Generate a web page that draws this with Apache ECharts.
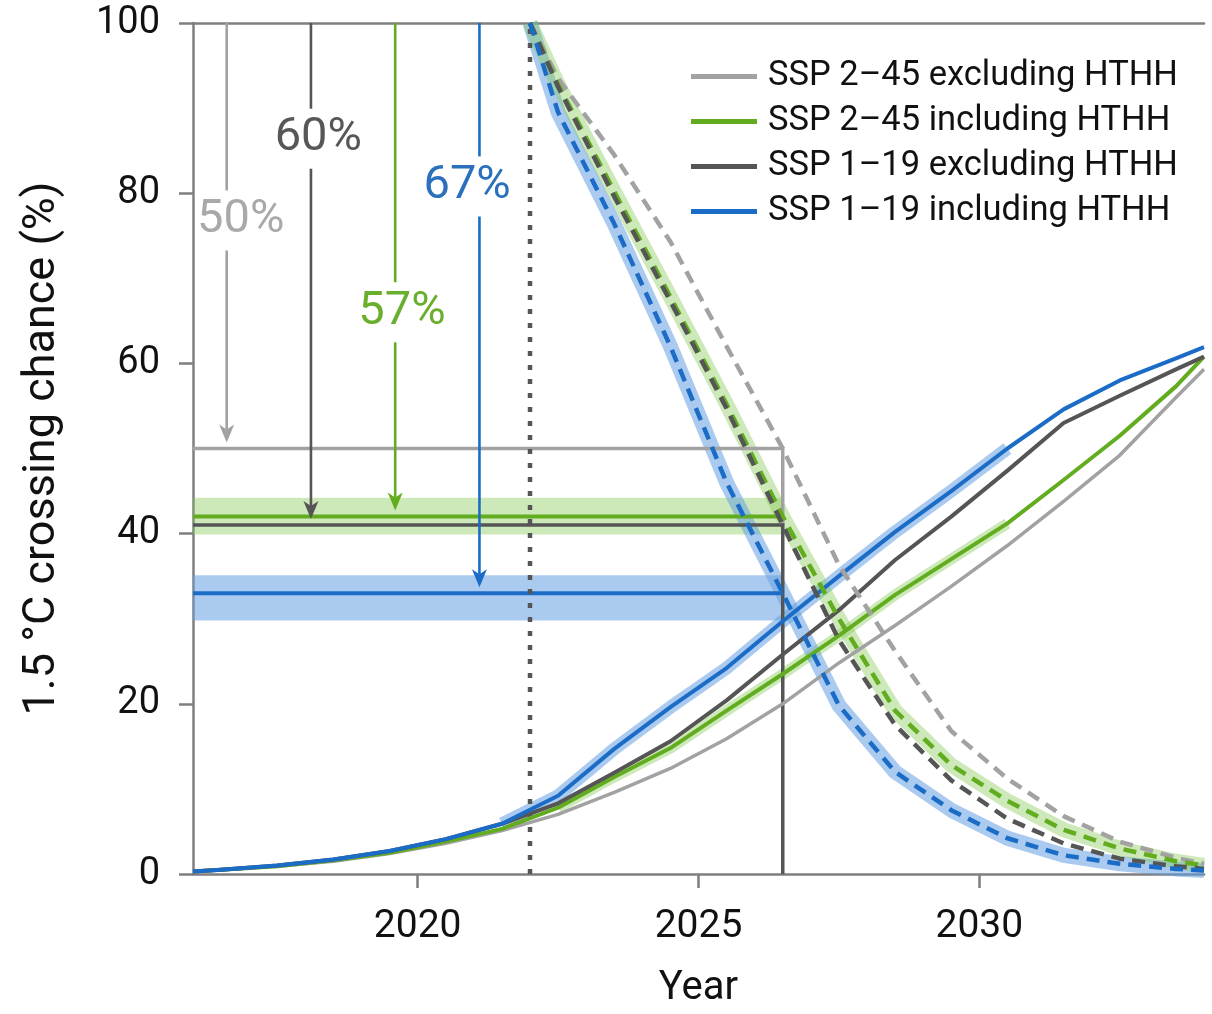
<!DOCTYPE html>
<html>
<head>
<meta charset="utf-8">
<script src="https://cdn.jsdelivr.net/npm/echarts@6/dist/echarts.min.js"></script>
<style>
  html, body { margin: 0; padding: 0; background: #fff; }
  #chart { width: 1212px; height: 1014px; }
</style>
</head>
<body>
<div id="chart"></div>
<script>
// ---- data -------------------------------------------------------------
const scenarioNames = [
  'SSP 2–45 excluding HTHH',
  'SSP 2–45 including HTHH',
  'SSP 1–19 excluding HTHH',
  'SSP 1–19 including HTHH'
];

// Chance of having crossed 1.5 °C (solid, rising curves)
const riseYears = [2016, 2016.5, 2017.5, 2018.5, 2019.5, 2020.5, 2021.5, 2022.5, 2023.5, 2024.5,
                   2025.5, 2026.5, 2027.5, 2028.5, 2029.5, 2030.5, 2031.5, 2032.5, 2033.5, 2034];
const ssp245ExclRise = [0.3, 0.5, 0.9, 1.5, 2.4, 3.6, 5.1, 7.0, 9.6, 12.4, 15.9, 20.0, 24.8, 29.2, 33.8, 38.6, 43.8, 49.2, 56.0, 59.3];
const ssp245InclRise = [0.3, 0.5, 0.9, 1.6, 2.5, 3.8, 5.3, 7.8, 11.4, 14.8, 19.2, 23.5, 28.0, 32.8, 37.0, 41.2, 46.3, 51.5, 57.3, 60.8];
const ssp119ExclRise = [0.3, 0.5, 1.0, 1.7, 2.7, 4.1, 5.9, 8.3, 11.9, 15.6, 20.4, 25.8, 31.0, 36.9, 42.0, 47.4, 53.0, 56.2, 59.3, 60.8];
const ssp119InclRise = [0.3, 0.5, 1.0, 1.7, 2.7, 4.1, 5.9, 9.2, 14.7, 19.6, 24.2, 29.7, 35.0, 40.2, 45.0, 50.0, 54.6, 58.0, 60.6, 61.9];

// Chance of not yet having crossed, from 2022 on (dashed, falling curves)
const fallYears = [2022, 2022.5, 2023.5, 2024.5, 2025.5, 2026.5, 2027.5, 2028.5, 2029.5, 2030.5, 2031.5, 2032.5, 2033.5, 2034];
const ssp245ExclFall = [100, 93.5, 84.5, 74.3, 62.0, 50.0, 36.3, 26.2, 16.8, 11.2, 6.8, 3.8, 1.9, 1.2];
const ssp245InclFall = [100, 92.8, 80.2, 67.8, 55.2, 42.0, 30.0, 19.2, 12.8, 8.6, 5.2, 3.0, 1.5, 1.0];
const ssp119ExclFall = [100, 92.5, 79.6, 67.3, 54.7, 41.0, 27.5, 17.5, 11.0, 6.5, 3.6, 1.8, 0.9, 0.6];
const ssp119InclFall = [100, 89.5, 76.4, 62.0, 46.0, 33.0, 19.8, 12.0, 7.5, 4.2, 2.2, 1.2, 0.6, 0.4];

// Reference years: present (dotted) and the year the levels are read at
const presentYear = 2022;
const readYear = 2026.5;

// Ranges of the horizontal uncertainty bands
const ssp245InclRange = [39.9, 44.2];
const ssp119InclRange = [29.8, 35.1];

// Annotated chances and the years of their arrows
const chanceLabels = ['50%', '57%', '60%', '67%'];
const arrowYears = [2016.6, 2019.6, 2018.1, 2021.1];

// x-axis tick years
const yearTicks = [2020, 2025, 2030];

// ---- styling ----------------------------------------------------------
const FONT = 'Roboto, "Noto Sans", sans-serif';
const colors = ['#a2a2a2', '#62ad1f', '#555555', '#1b6cc6'];
const labelColors = ['#a9a9a9', '#6aae2e', '#575757', '#2a70bd'];
const bandBlue = 'rgba(100,160,225,0.55)';
const bandGreen = 'rgba(130,200,80,0.40)';
const axisGray = '#7f7f7f';
// label centres (year, value) for the chance annotations
const labelAnchors = [[2016.85, 76.8], [2019.72, 66.0], [2018.23, 86.4], [2020.88, 80.8]];

const riseSets = [ssp245ExclRise, ssp245InclRise, ssp119ExclRise, ssp119InclRise];
const fallSets = [ssp245ExclFall, ssp245InclFall, ssp119ExclFall, ssp119InclFall];
const pairs = (xs, ys) => xs.map((x, i) => [x, ys[i]]);
const readIdx = fallYears.indexOf(readYear);
const levels = fallSets.map(s => s[readIdx]);

const series = [];

// horizontal uncertainty bands
[[ssp245InclRange, bandGreen], [ssp119InclRange, bandBlue]].forEach(([rng, col]) => {
  series.push({
    type: 'custom', silent: true, z: 1,
    encode: { x: [0, 1], y: [2, 3] },
    data: [[riseYears[0], readYear, rng[0], rng[1]]],
    renderItem: (params, api) => {
      const a = api.coord([api.value(0), api.value(3)]);
      const b = api.coord([api.value(1), api.value(2)]);
      return { type: 'rect', shape: { x: a[0], y: a[1], width: b[0] - a[0], height: b[1] - a[1] },
               style: { fill: col } };
    }
  });
});

// translucent spread around the "including HTHH" curves
const bandLine = (data, col, w) => ({
  type: 'line', silent: true, z: 1, symbol: 'none', data,
  lineStyle: { color: col, width: w, cap: 'butt', join: 'round' }
});
series.push(bandLine(pairs(riseYears, ssp119InclRise).slice(6, 16), bandBlue, 13));
series.push(bandLine(pairs(riseYears, ssp245InclRise).slice(7, 16), bandGreen, 11));
series.push(bandLine(pairs(fallYears, ssp119InclFall), bandBlue, 15));
series.push(bandLine(pairs(fallYears, ssp245InclFall), bandGreen, 15));

// level lines read at the crossing year
const levelLine = (data, col, w) => ({
  type: 'line', silent: true, z: 2, symbol: 'none', data,
  lineStyle: { color: col, width: w, cap: 'butt', join: 'miter' }
});
const x0 = riseYears[0];
series.push(levelLine([[x0, levels[0]], [readYear, levels[0]], [readYear, levels[2]]], colors[0], 3.5));
series.push(levelLine([[x0, levels[1]], [readYear, levels[1]]], colors[1], 4));
series.push(levelLine([[x0, levels[2]], [readYear, levels[2]], [readYear, 0]], colors[2], 3.5));
series.push(levelLine([[x0, levels[3]], [readYear, levels[3]]], colors[3], 4));

// dotted present-day marker
series.push({
  type: 'line', silent: true, z: 2, symbol: 'none',
  data: [[presentYear, 0], [presentYear, 100]],
  lineStyle: { color: '#555', width: 4.5, type: [5, 9], cap: 'butt' }
});

// solid rising curves
riseSets.forEach((s, i) => {
  series.push({
    name: scenarioNames[i], type: 'line', z: 3, symbol: 'none', silent: true,
    data: pairs(riseYears, s),
    lineStyle: { color: colors[i], width: i === 0 ? 3.5 : 4, join: 'round' },
    itemStyle: { color: colors[i] }
  });
});

// dashed falling curves
fallSets.forEach((s, i) => {
  series.push({
    name: scenarioNames[i], type: 'line', z: 4, symbol: 'none', silent: true,
    data: pairs(fallYears, s),
    lineStyle: { color: colors[i], width: 4.5, type: [13, 8], cap: 'butt', join: 'round' },
    itemStyle: { color: colors[i] }
  });
});

// arrows with chance labels
series.push({
  type: 'custom', silent: true, z: 5,
  encode: { x: 0, y: 1 },
  data: arrowYears.map((x, i) => [x, levels[i], i]),
  renderItem: (params, api) => {
    const i = api.value(2);
    const top = api.coord([api.value(0), 100]);
    const base = api.coord([api.value(0), api.value(1)]);
    const lab = api.coord(labelAnchors[i]);
    const x = top[0];
    const tip = base[1] - 6;
    const headLen = 18, headW = 7.5;
    const col = colors[i];
    return {
      type: 'group',
      children: [
        { type: 'line', shape: { x1: x, y1: top[1], x2: x, y2: lab[1] - 30 },
          style: { stroke: col, lineWidth: 2.6 } },
        { type: 'line', shape: { x1: x, y1: lab[1] + 30, x2: x, y2: tip - headLen + 5 },
          style: { stroke: col, lineWidth: 2.6 } },
        { type: 'polygon',
          shape: { points: [[x, tip], [x - headW, tip - headLen], [x, tip - headLen + 5], [x + headW, tip - headLen]] },
          style: { fill: col } },
        { type: 'text',
          style: { text: chanceLabels[i], x: lab[0], y: lab[1], fill: labelColors[i],
                   fontSize: 47, fontFamily: FONT, align: 'center', verticalAlign: 'middle' } }
      ]
    };
  }
});

const chart = echarts.init(document.getElementById('chart'), null, { renderer: 'canvas' });
chart.setOption({
  animation: false,
  backgroundColor: '#fff',
  grid: { left: 193, right: 8, top: 23, bottom: 132, containLabel: false },
  legend: {
    orient: 'vertical', left: 686, top: 54,
    itemWidth: 66, itemHeight: 5, itemGap: 10,
    selectedMode: false,
    data: scenarioNames.map((n, i) => ({ name: n, icon: 'rect', itemStyle: { color: colors[i] } })),
    textStyle: { fontSize: 34.5, color: '#111', fontFamily: FONT, lineHeight: 34, padding: [0, 0, 0, 6] }
  },
  xAxis: [
    {
      type: 'value', min: 2016, max: 2034,
      axisLine: { show: true, onZero: false, lineStyle: { color: axisGray, width: 2.5 } },
      axisTick: { show: true, length: 14, customValues: yearTicks, lineStyle: { color: axisGray, width: 2.5 } },
      axisLabel: { customValues: yearTicks, margin: 34, fontSize: 39, color: '#111', fontFamily: FONT,
                   formatter: v => String(v) },
      splitLine: { show: false },
      name: 'Year', nameLocation: 'middle', nameGap: 95,
      nameTextStyle: { fontSize: 40, color: '#111', fontFamily: FONT }
    },
    {
      type: 'value', position: 'top', min: 2016, max: 2034,
      axisLine: { show: true, onZero: false, lineStyle: { color: axisGray, width: 2.5 } },
      axisTick: { show: false }, axisLabel: { show: false }, splitLine: { show: false }
    }
  ],
  yAxis: {
    type: 'value', min: 0, max: 100, interval: 20,
    axisLine: { show: true, onZero: false, lineStyle: { color: axisGray, width: 2.5 } },
    axisTick: { show: true, length: 14, lineStyle: { color: axisGray, width: 2.5 } },
    axisLabel: { margin: 33, fontSize: 38, color: '#111', fontFamily: FONT },
    splitLine: { show: false },
    name: '1.5 °C crossing chance (%)', nameLocation: 'middle', nameGap: 128,
    nameTextStyle: { fontSize: 45, color: '#111', fontFamily: FONT }
  },
  series
});
</script>
</body>
</html>
